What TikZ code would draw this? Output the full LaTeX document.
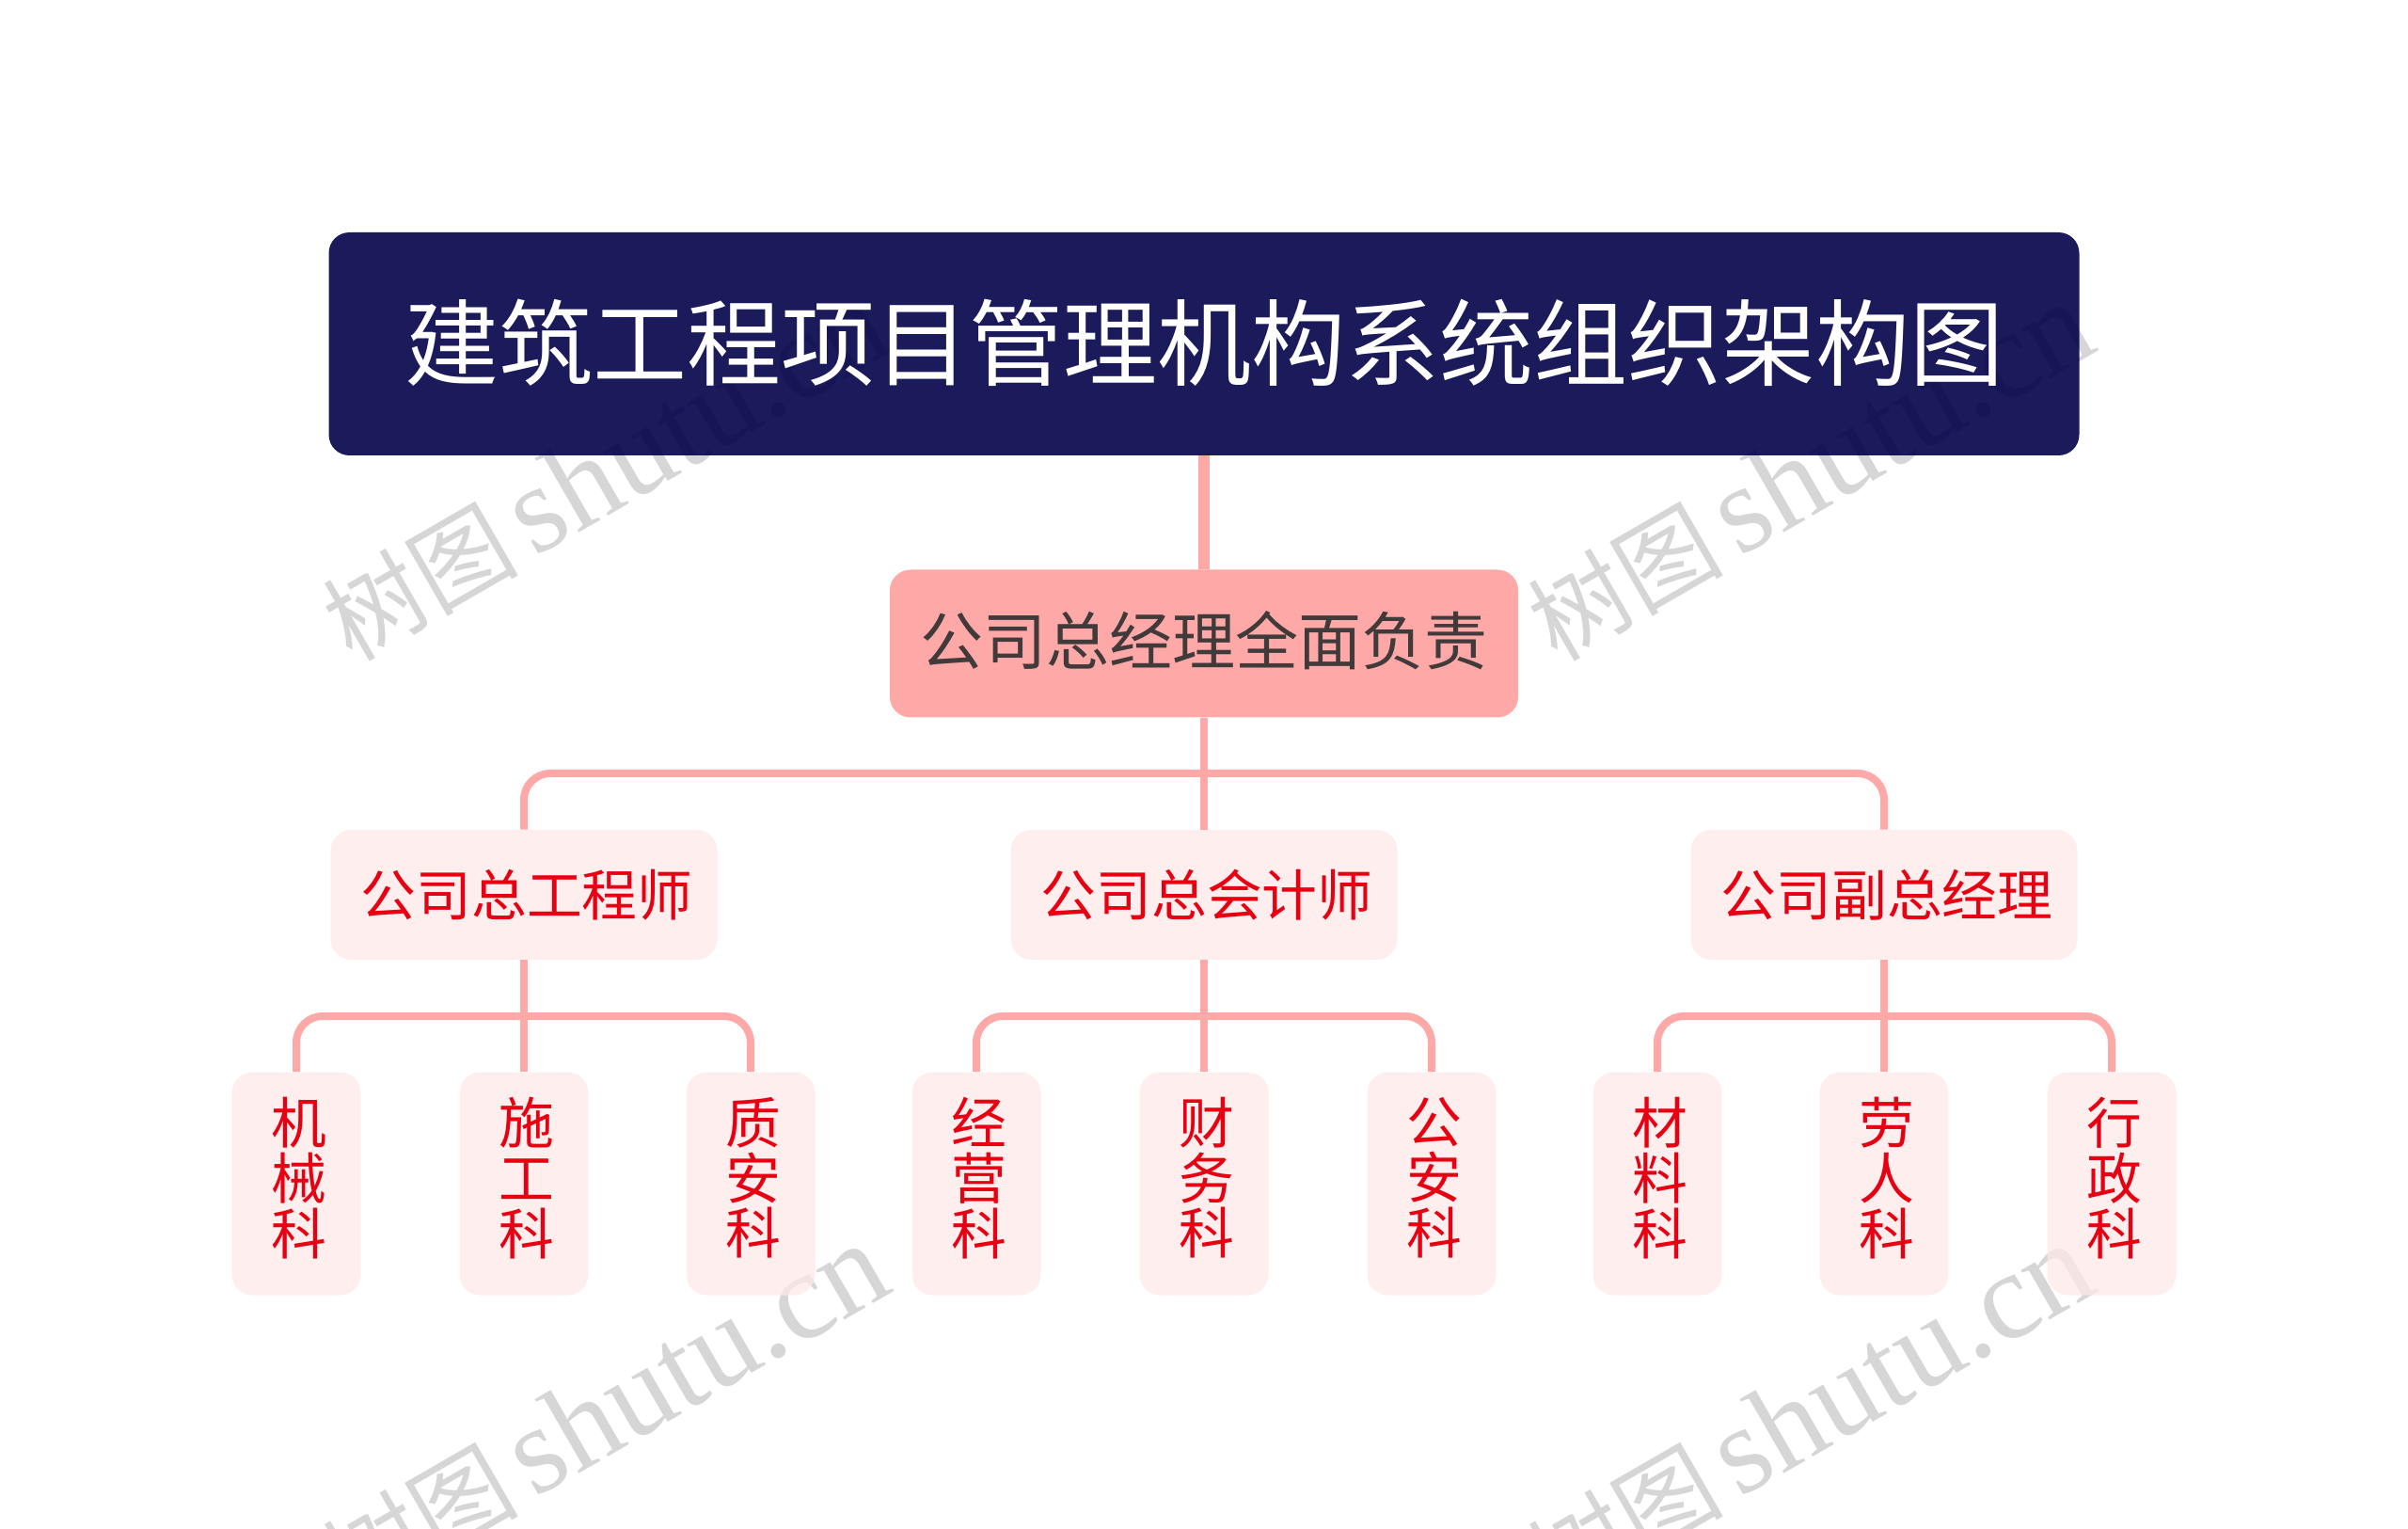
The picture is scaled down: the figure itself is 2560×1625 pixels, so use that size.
\documentclass[tikz,border=0pt]{standalone}
\usepackage{fontspec}
\setmainfont{Noto Sans CJK SC}
\newfontfamily\marklatin{Liberation Serif}
\definecolor{rootblue}{RGB}{2,2,74}
\definecolor{linkpink}{RGB}{255,168,168}
\definecolor{palepink}{RGB}{255,232,232}
\definecolor{markgray}{RGB}{214,214,214}
\definecolor{leadtext}{RGB}{64,58,58}
\definecolor{deptred}{RGB}{230,0,18}
\tikzset{
	boxbase/.style={rectangle,rounded corners=11pt,inner sep=0pt,text opacity=1,align=center},
	rootbox/.style={boxbase,fill=rootblue,fill opacity=0.9,text=white,minimum width=930.5pt,minimum height=118.5pt,text depth=5.5pt,font=\fontsize{50}{50}\selectfont},
	leadbox/.style={boxbase,fill=linkpink,text=leadtext,minimum width=334pt,minimum height=78.5pt,text depth=5.7pt,font=\fontsize{33.5}{33.5}\selectfont},
	chiefbox/.style={boxbase,fill=palepink,fill opacity=0.75,text=deptred,minimum width=205.5pt,minimum height=69pt,font=\fontsize{29.4}{29.4}\selectfont},
	deptbox/.style={boxbase,fill=palepink,fill opacity=0.75,text=deptred,minimum width=68.5pt,minimum height=118.5pt,text depth=8.5pt,font=\fontsize{29.4}{29.4}\selectfont},
	trunk/.style={draw=linkpink,line width=6pt},
	link/.style={draw=linkpink,line width=4pt},
	branch/.style={link,rounded corners=14pt},
	shutumark/.style={rotate=30,text=markgray,inner sep=0pt}
}
\newcommand{\markAt}[3]{\node[shutumark] (#1) at (#2,#3) {\fontsize{52}{52}\selectfont 树图\hspace{8pt}\fontsize{66}{66}\selectfont\marklatin shutu.cn}}
\newcommand{\chiefText}[1]{\hspace*{3pt}#1}
\newcommand{\deptText}[3]{\hspace*{3pt}#1\\\hspace*{3pt}#2\\\hspace*{3pt}#3}

\begin{document}
\begin{tikzpicture}[x=0.5pt,y=-0.5pt]
		\useasboundingbox (0,0) rectangle (2560,1625);
		
		% watermark sits under the boxes
		\markAt{wm1}{643}{502};
		\markAt{wm2}{1924}{502};
		\markAt{wm3}{643}{1502};
		\markAt{wm4}{1924}{1502};
		
		\node[rootbox] (root) at (1280,365.5) {建筑工程项目管理机构系统组织架构图};
		\node[leadbox] (lead) at (1280,684) {公司总经理全面负责};
		
		\node[chiefbox] (chief1) at (557,951) {\chiefText{公司总工程师}};
		\node[chiefbox] (chief2) at (1280,951) {\chiefText{公司总会计师}};
		\node[chiefbox] (chief3) at (2003,951) {\chiefText{公司副总经理}};
		
		\node[deptbox] (d1) at (315,1258) {\deptText{机}{械}{科}};
		\node[deptbox] (d2) at (557,1258) {\deptText{施}{工}{科}};
		\node[deptbox] (d3) at (798,1258) {\deptText{质}{安}{科}};
		\node[deptbox] (d4) at (1038,1258) {\deptText{经}{营}{科}};
		\node[deptbox] (d5) at (1280,1258) {\deptText{财}{务}{科}};
		\node[deptbox] (d6) at (1522,1258) {\deptText{公}{安}{科}};
		\node[deptbox] (d7) at (1762,1258) {\deptText{材}{料}{科}};
		\node[deptbox] (d8) at (2003,1258) {\deptText{劳}{人}{科}};
		\node[deptbox] (d9) at (2245,1258) {\deptText{行}{政}{科}};
		
		\coordinate (bus0) at (1280,822);
		\coordinate (bus1) at (557,1080);
		\coordinate (bus2) at (1280,1080);
		\coordinate (bus3) at (2003,1080);
		
		\draw[trunk] (root) to (lead);
		\draw[link] (lead) to (chief2);
		\draw[branch] (chief1.north) |- (bus0) -| (chief3.north);
		
		\draw[link] (chief1) to (d2);
		\draw[branch] (d1.north) |- (bus1) -| (d3.north);
		\draw[link] (chief2) to (d5);
		\draw[branch] (d4.north) |- (bus2) -| (d6.north);
		\draw[link] (chief3) to (d8);
		\draw[branch] (d7.north) |- (bus3) -| (d9.north);
	\end{tikzpicture}
\end{document}
